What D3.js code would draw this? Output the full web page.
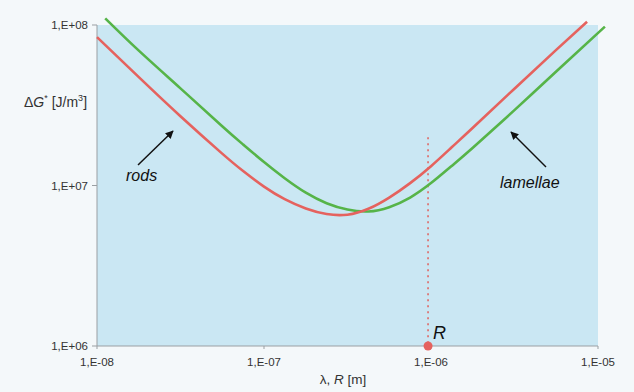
<!DOCTYPE html>
<html>
<head>
<meta charset="utf-8">
<script src="https://cdn.jsdelivr.net/npm/d3@7"></script>
<style>
    body { margin: 0; background: #f4f8fa; }
    svg { display: block; font-family: 'Liberation Sans', Arial, sans-serif; }
</style>
</head>
<body>
<svg id="chart" width="634" height="392"></svg>
<script>
// tick values and their labels
var xTicks = [1e-8, 1e-7, 1e-6, 1e-5];
var xTickLabels = ['1,E-08', '1,E-07', '1,E-06', '1,E-05'];
var yTicks = [1e6, 1e7, 1e8];
var yTickLabels = ['1,E+06', '1,E+07', '1,E+08'];

// rods (red)
var rodsX = [1e-8, 1.78e-8, 3.16e-8, 5.62e-8, 7.5e-8, 1e-7, 1.33e-7, 1.78e-7, 2.37e-7, 3.16e-7, 4.22e-7, 5.62e-7, 7.5e-7, 1e-6, 1.33e-6, 1.78e-6, 3.16e-6, 5.62e-6, 8.6e-6];
var rodsY = [8.41e7, 4.73e7, 2.70e7, 1.58e7, 1.23e7, 9.84e6, 8.22e6, 7.19e6, 6.64e6, 6.58e6, 7.16e6, 8.41e6, 1.035e7, 1.32e7, 1.73e7, 2.29e7, 4.01e7, 7.0e7, 1.047e8];

// lamellae (green)
var lamellaeX = [1.12e-8, 1.78e-8, 3.16e-8, 5.62e-8, 7.5e-8, 1e-7, 1.33e-7, 1.78e-7, 2.37e-7, 3.16e-7, 4.22e-7, 5.62e-7, 7.5e-7, 1e-6, 1.33e-6, 1.78e-6, 3.16e-6, 5.62e-6, 1.1e-5];
var lamellaeY = [1.10e8, 6.92e7, 4.03e7, 2.34e7, 1.80e7, 1.40e7, 1.11e7, 9.02e6, 7.76e6, 7.08e6, 6.89e6, 7.33e6, 8.41e6, 1.035e7, 1.324e7, 1.72e7, 2.95e7, 5.13e7, 9.77e7];

// marked radius R and top of its guide line
var markR = 9.6e-7;
var markTop = 2.0e7;

(function() {
    var svg = d3.select('#chart'),
        left = 97, right = 598, top = 25, bottom = 346;

    var x = d3.scaleLog().domain([1e-8, 1e-5]).range([left, right]),
        y = d3.scaleLog().domain([1e6, 1e8]).range([bottom, top]);

    // plot background
    svg.append('rect')
        .attr('x', left).attr('y', top)
        .attr('width', right - left).attr('height', bottom - top)
        .attr('fill', '#cae7f3');

    // axis lines
    svg.append('line')
        .attr('x1', left).attr('x2', left)
        .attr('y1', top).attr('y2', bottom)
        .attr('stroke', '#9a9fa3').attr('stroke-width', 1);
    svg.append('line')
        .attr('x1', left).attr('x2', right)
        .attr('y1', bottom).attr('y2', bottom)
        .attr('stroke', '#9a9fa3').attr('stroke-width', 1);

    // y ticks
    yTicks.forEach(function(v, i) {
        svg.append('line')
            .attr('x1', left - 5).attr('x2', left)
            .attr('y1', y(v)).attr('y2', y(v))
            .attr('stroke', '#9a9fa3');
        svg.append('text')
            .attr('x', left - 9).attr('y', y(v) + 4)
            .attr('text-anchor', 'end')
            .attr('font-size', '11.5px')
            .attr('fill', '#333')
            .text(yTickLabels[i]);
    });

    // x ticks
    xTicks.forEach(function(v, i) {
        svg.append('line')
            .attr('x1', x(v)).attr('x2', x(v))
            .attr('y1', bottom).attr('y2', bottom + 3)
            .attr('stroke', '#9a9fa3');
        svg.append('text')
            .attr('x', x(v)).attr('y', bottom + 20)
            .attr('text-anchor', 'middle')
            .attr('font-size', '11.5px')
            .attr('fill', '#333')
            .text(xTickLabels[i]);
    });

    // axis titles
    var yt = svg.append('text')
        .attr('x', 24).attr('y', 107)
        .attr('font-size', '14px')
        .attr('fill', '#333');
    yt.append('tspan').text('\u0394');
    yt.append('tspan').attr('font-style', 'italic').text('G');
    yt.append('tspan').attr('dy', -6).attr('font-size', '9px').text('*');
    yt.append('tspan').attr('dy', 6).text(' [J/m');
    yt.append('tspan').attr('dy', -6).attr('font-size', '9px').text('3');
    yt.append('tspan').attr('dy', 6).text(']');

    var xt = svg.append('text')
        .attr('x', 343).attr('y', 384)
        .attr('text-anchor', 'middle')
        .attr('font-size', '13.5px')
        .attr('fill', '#333');
    xt.append('tspan').text('\u03bb, ');
    xt.append('tspan').attr('font-style', 'italic').text('R');
    xt.append('tspan').text(' [m]');

    // dotted guide at R
    svg.append('line')
        .attr('x1', x(markR)).attr('x2', x(markR))
        .attr('y1', y(markTop)).attr('y2', bottom)
        .attr('stroke', '#e0605c')
        .attr('stroke-width', 1.5)
        .attr('stroke-dasharray', '2,4');

    // natural spline keeps the read points on a smooth curve
    var line = d3.line()
        .x(function(d) { return x(d[0]); })
        .y(function(d) { return y(d[1]); })
        .curve(d3.curveNatural);

    svg.append('path')
        .datum(d3.zip(lamellaeX, lamellaeY))
        .attr('d', line)
        .attr('fill', 'none')
        .attr('stroke', '#56b448')
        .attr('stroke-width', 2.6);

    svg.append('path')
        .datum(d3.zip(rodsX, rodsY))
        .attr('d', line)
        .attr('fill', 'none')
        .attr('stroke', '#e5625e')
        .attr('stroke-width', 2.6);

    // R marker
    svg.append('circle')
        .attr('cx', x(markR)).attr('cy', bottom)
        .attr('r', 4.5)
        .attr('fill', '#e5625e');
    svg.append('text')
        .attr('x', x(markR) + 5).attr('y', bottom - 7)
        .attr('font-size', '18px')
        .attr('font-style', 'italic')
        .attr('fill', '#111')
        .text('R');

    // annotations with arrows
    svg.append('defs').append('marker')
        .attr('id', 'head')
        .attr('viewBox', '0 0 10 10')
        .attr('refX', 9).attr('refY', 5)
        .attr('markerWidth', 8).attr('markerHeight', 8)
        .attr('markerUnits', 'userSpaceOnUse')
        .attr('orient', 'auto')
        .append('path')
        .attr('d', 'M0,0 L10,5 L0,10 z')
        .attr('fill', '#111');

    svg.append('line')
        .attr('x1', 138).attr('y1', 165)
        .attr('x2', 173).attr('y2', 131)
        .attr('stroke', '#111').attr('stroke-width', 1.5)
        .attr('marker-end', 'url(#head)');
    svg.append('text')
        .attr('x', 126).attr('y', 181)
        .attr('font-size', '16px')
        .attr('font-style', 'italic')
        .attr('fill', '#111')
        .text('rods');

    svg.append('line')
        .attr('x1', 546).attr('y1', 167)
        .attr('x2', 511).attr('y2', 132)
        .attr('stroke', '#111').attr('stroke-width', 1.5)
        .attr('marker-end', 'url(#head)');
    svg.append('text')
        .attr('x', 500).attr('y', 188)
        .attr('font-size', '16px')
        .attr('font-style', 'italic')
        .attr('fill', '#111')
        .text('lamellae');
}());
</script>
</body>
</html>
